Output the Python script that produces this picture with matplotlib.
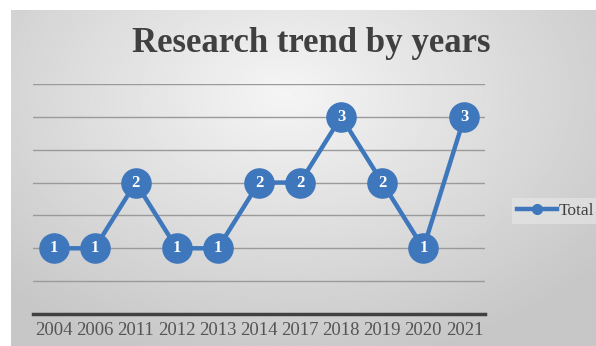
import numpy as np
import matplotlib.pyplot as plt
from matplotlib.lines import Line2D

years = ["2004", "2006", "2011", "2012", "2013", "2014", "2017", "2018", "2019", "2020", "2021"]
totals = [1, 1, 2, 1, 1, 2, 2, 3, 2, 1, 3]

W, H = 596, 346
fig = plt.figure(figsize=(W / 100, H / 100), dpi=100)
fig.patch.set_facecolor("white")

# gradient background of the chart box
bg = fig.add_axes([11 / W, 0, 1 - 11 / W, 1 - 10 / H])
yy, xx = np.mgrid[0:1:200j, 0:1:300j]
r = np.sqrt(((xx - 0.47) / 0.8) ** 2 + ((yy - 0.25) / 0.95) ** 2)
shade = np.clip(0.96 - 0.21 * r, 0.78, 0.96)
bg.imshow(shade, cmap="gray", vmin=0, vmax=1, aspect="auto", origin="upper",
          extent=[0, 1, 0, 1], interpolation="bilinear")
bg.set_axis_off()

ax = fig.add_axes([33 / W, 1 - 314 / H, 452 / W, (314 - 84) / H])
ax.set_facecolor("none")
x = np.arange(len(years))
ax.set_xlim(-0.5, len(years) - 0.5)
ax.set_ylim(0, 3.5)

for g in np.arange(0.5, 3.51, 0.5):
    ax.axhline(g, color="#9a9a9a", lw=1.0, zorder=1)

blue = "#3F77BC"
ax.plot(x, totals, color=blue, lw=3.2, marker="o", markersize=21,
        markerfacecolor=blue, markeredgecolor=blue, zorder=3)
for xi, v in zip(x, totals):
    ax.text(xi, v, str(v), ha="center", va="center", color="white",
            fontsize=12, fontweight="bold", family="Liberation Serif", zorder=4)

for s in ["top", "right", "left"]:
    ax.spines[s].set_visible(False)
ax.spines["bottom"].set_color("#404040")
ax.spines["bottom"].set_linewidth(2.5)
ax.set_yticks([])
ax.set_xticks(x)
ax.set_xticklabels(years, fontsize=13.5, color="#555555", family="Liberation Serif")
ax.tick_params(axis="x", length=0, pad=6)

fig.text(0.522, 1 - 44 / H, "Research trend by years", ha="center", va="center",
         fontsize=25, fontweight="bold", color="#404040", family="Liberation Serif")

handle = Line2D([], [], color=blue, lw=3.2, marker="o", markersize=7)
leg = fig.legend([handle], ["Total"], loc="center left", bbox_to_anchor=(503 / W, 1 - 211 / H),
                 frameon=True, prop={"family": "Liberation Serif", "size": 12.5},
                 handlelength=2.3, handletextpad=0.1, labelcolor="#404040",
                 borderpad=0.3, fancybox=False)
leg.get_frame().set_facecolor("#e8e8e8")
leg.get_frame().set_edgecolor("none")
leg.get_frame().set_alpha(0.6)

fig.savefig("out.png", dpi=100)
